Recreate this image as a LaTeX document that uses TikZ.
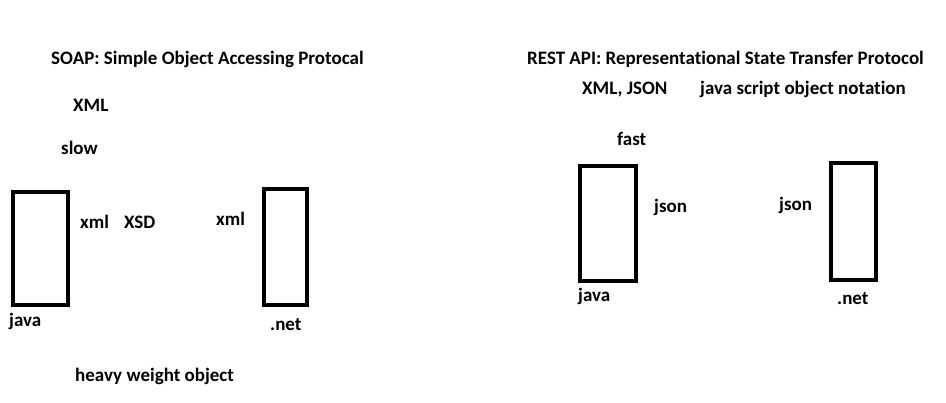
\documentclass[tikz,border=0pt]{standalone}
\usepackage{fontspec}
\setmainfont{Carlito}[Ligatures={NoCommon}]
\begin{document}
\begin{tikzpicture}[x=1pt,y=-1pt,
  lbl/.style={anchor=base west,inner sep=0pt,font=\fontsize{19}{22}\selectfont\bfseries},
  box/.style={draw=black,line width=4pt,inner sep=0pt}]
\useasboundingbox[fill=white] (0,0) rectangle (946,403);
% SOAP side
\node[lbl] (soap) at (51,65) {SOAP: Simple Object Accessing Protocal};
\node[lbl] (xmlA) at (73,112) {XML};
\node[lbl] (slow) at (61,155) {slow};
\node[box,minimum width=55pt,minimum height=113pt] (javaA) at (40.5,248.5) {};
\node[lbl] (xmlB) at (80,229) {xml};
\node[lbl] (xsd) at (124,229) {XSD};
\node[lbl] (xmlC) at (216,226) {xml};
\node[box,minimum width=43pt,minimum height=116pt] (netA) at (285.5,247) {};
\node[lbl] (javaAl) at (9,327) {java};
\node[lbl] (netAl) at (270,331) {.net};
\node[lbl] (heavy) at (75,382) {heavy weight object};
% REST side
\node[lbl] (rest) at (527,65) {REST API: Representational State Transfer Protocol};
\node[lbl] (xmljson) at (582,95) {XML, JSON};
\node[lbl] (jsno) at (700,95) {java script object notation};
\node[lbl] (fast) at (617,146) {fast};
\node[box,minimum width=56pt,minimum height=115pt] (javaB) at (608,223.5) {};
\node[lbl] (jsonA) at (654,213) {json};
\node[lbl] (jsonB) at (779,211) {json};
\node[box,minimum width=45pt,minimum height=117pt] (netB) at (853.5,221.5) {};
\node[lbl] (javaBl) at (578,302) {java};
\node[lbl] (netBl) at (837,305) {.net};
\end{tikzpicture}
\end{document}
